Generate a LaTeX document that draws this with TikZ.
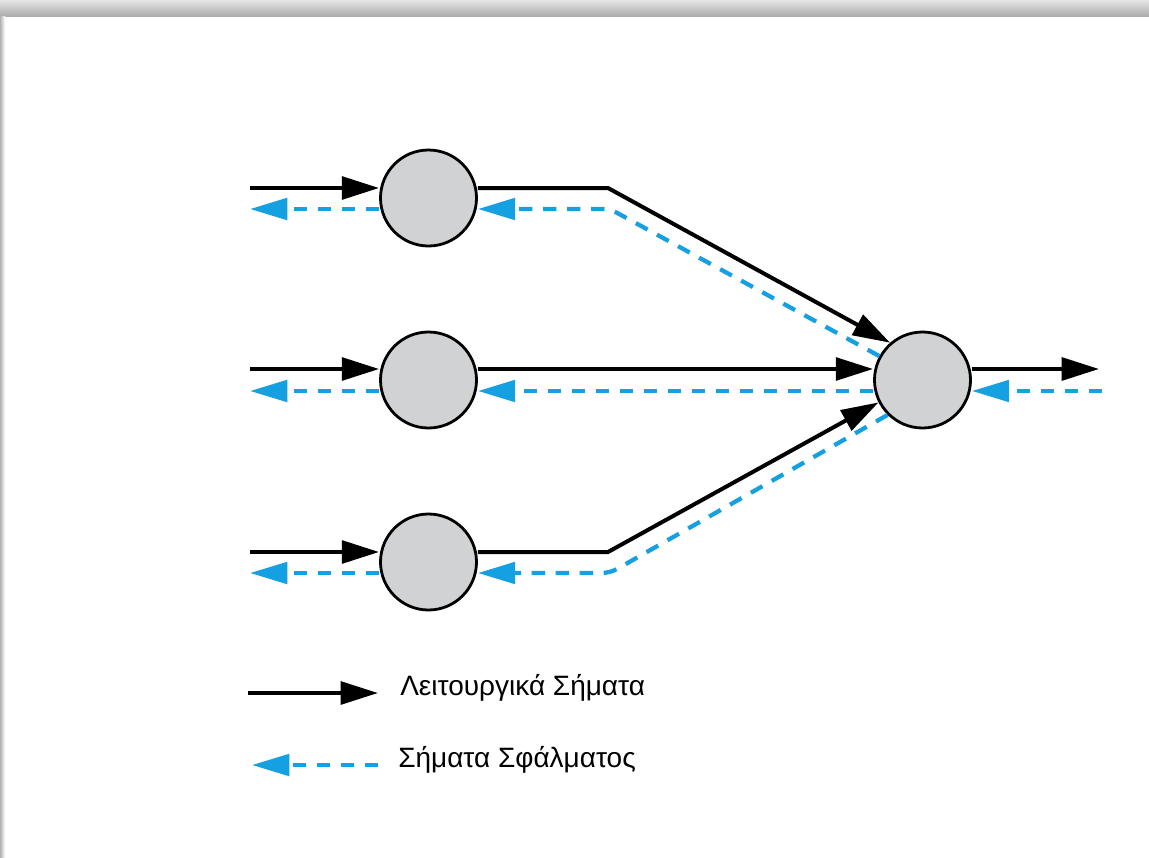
\documentclass[tikz,border=0pt]{standalone}
\usepackage{fontspec}
\setmainfont{Liberation Sans}
\usetikzlibrary{arrows.meta}
\definecolor{errblue}{RGB}{20,160,225}
\definecolor{nodegray}{RGB}{208,210,212}
\begin{document}
\begin{tikzpicture}[x=0.75pt,y=-0.75pt,
  unit/.style={circle,draw=black,line width=2.1pt,fill=nodegray,minimum size=72pt,inner sep=0pt},
  sig/.style={line width=3pt,draw=black,-{Triangle[length=28pt,width=17pt]}},
  err/.style={line width=3.2pt,draw=errblue,dash pattern=on 10pt off 8pt,-{Triangle[length=28pt,width=16pt]}},
  legendtext/.style={font=\fontsize{21pt}{24pt}\selectfont,anchor=base west,inner sep=0pt}]
\useasboundingbox (0,0) rectangle (1149,857);
\fill[white] (0,0) rectangle (1149,857);
\shade[top color=gray!20,bottom color=gray!65] (0,0) rectangle (1149,16);
\shade[left color=gray!60,right color=white] (0,16) rectangle (5,857);

\node[unit] (T) at (428.5,198) {};
\node[unit] (M) at (428.5,380) {};
\node[unit] (B) at (428.5,562) {};
\node[unit] (R) at (922.5,380) {};

\coordinate (inT) at (250,188);  \coordinate (outT) at (250,209);
\coordinate (kT) at (608,188);   \coordinate (kTe) at (610,209);
\coordinate (inM) at (250,369);  \coordinate (outM) at (250,391);
\coordinate (inB) at (250,552);  \coordinate (outB) at (250,573);
\coordinate (kB) at (608,552);   \coordinate (kBe) at (610,573);
\coordinate (outR) at (1099,369); \coordinate (inR) at (1102,391);

% top row
\draw[sig] (inT) -- (inT -| T.west);
\draw[err] (outT -| T.west) -- (outT);
\draw[sig] (kT -| T.east) -- (kT) -- (R.131);
\draw[err,rounded corners=6pt] (R.151) -- (kTe) -- (kTe -| T.east);
% middle row
\draw[sig] (inM) -- (inM -| M.west);
\draw[err] (outM -| M.west) -- (outM);
\draw[sig] (inM -| M.east) -- (inM -| R.west);
\draw[err] (outM -| R.west) -- (outM -| M.east);
% bottom row
\draw[sig] (inB) -- (inB -| B.west);
\draw[err] (outB -| B.west) -- (outB);
\draw[sig] (kB -| B.east) -- (kB) -- (R.207);
\draw[err,rounded corners=6pt] (R.225) -- (kBe) -- (kBe -| B.east);
% output
\draw[sig] (outR -| R.east) -- (outR);
\draw[err] (inR) -- (inR -| R.east);

% legend
\coordinate (lg1a) at (248,693); \coordinate (lg1b) at (378,693);
\draw[sig] (lg1a) -- (lg1b);
\node[legendtext] (t1) at (400,695) {Λειτουργικά Σήματα};
\coordinate (lg2a) at (378,765); \coordinate (lg2b) at (252,765);
\draw[err] (lg2a) -- (lg2b);
\node[legendtext] (t2) at (398,767) {Σήματα Σφάλματος};
\end{tikzpicture}
\end{document}
